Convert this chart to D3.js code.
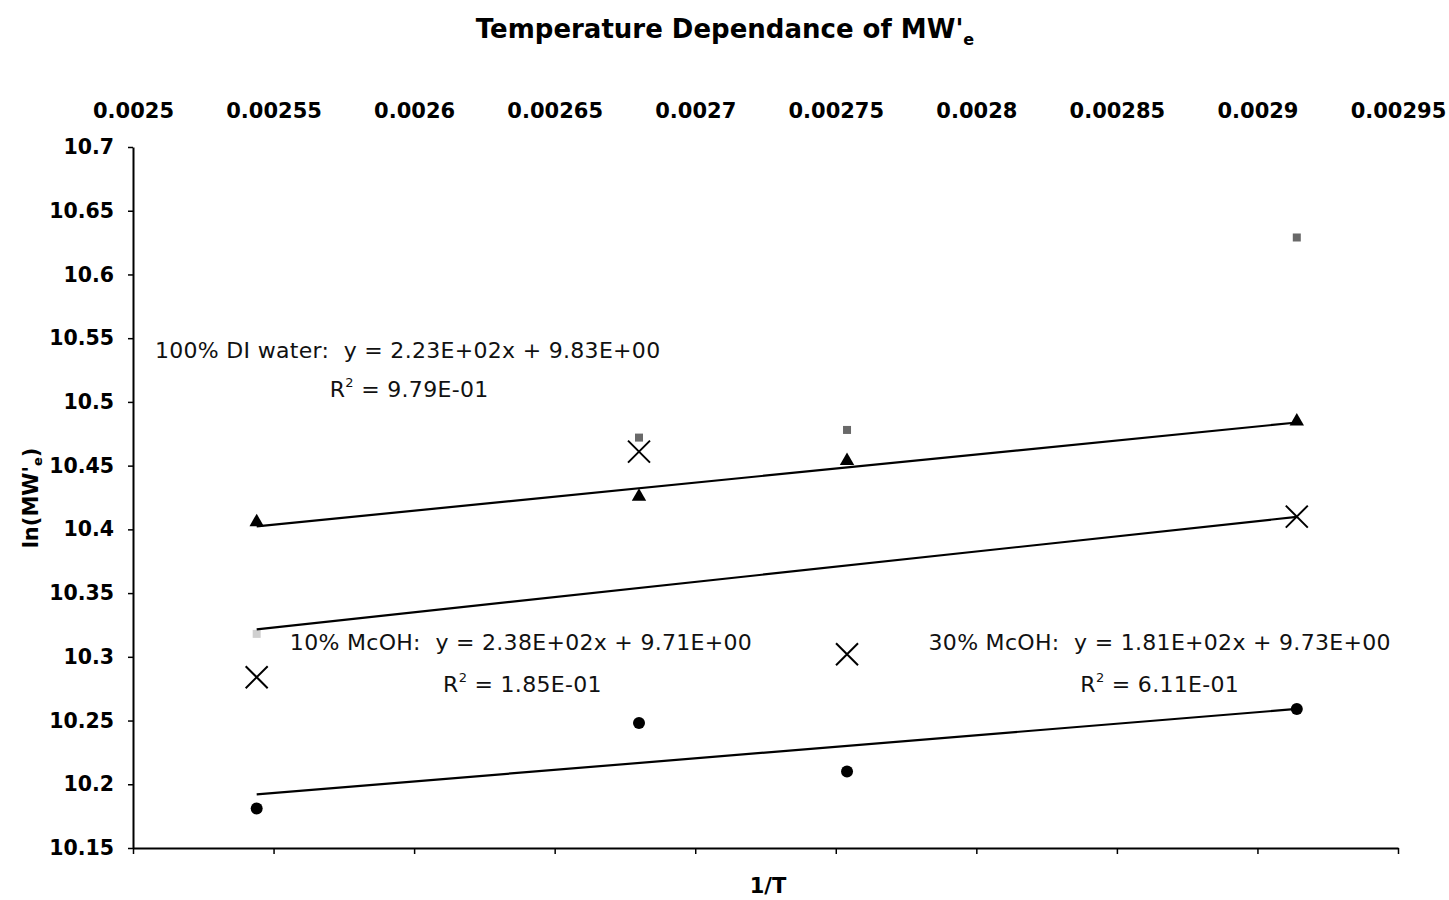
<!DOCTYPE html>
<html><head><meta charset="utf-8">
<script src="https://cdn.jsdelivr.net/npm/d3@7"></script>
<style>body{margin:0;background:#fff}svg{display:block}text{white-space:pre}</style>
</head><body>
<svg id="c" width="1449" height="900"></svg>
<script>
const invT = [0.002544, 0.00268, 0.002754, 0.002914];
const diWater = [10.405, 10.425, 10.453, 10.484];
const meoh10 = [10.284, 10.461, 10.302, 10.410];
const meoh30 = [10.181, 10.248, 10.210, 10.259];
const faintSeries = [10.318, 10.472, 10.478, 10.629];
const xTicks = [0.0025,0.00255,0.0026,0.00265,0.0027,0.00275,0.0028,0.00285,0.0029,0.00295];
const xTickLabels = ["0.0025","0.00255","0.0026","0.00265","0.0027","0.00275","0.0028","0.00285","0.0029","0.00295"];
const yTicks = [10.15,10.2,10.25,10.3,10.35,10.4,10.45,10.5,10.55,10.6,10.65,10.7];
const yTickLabels = ["10.15","10.2","10.25","10.3","10.35","10.4","10.45","10.5","10.55","10.6","10.65","10.7"];
const eqLabels = [
  {l1:"100% DI water:  y = 2.23E+02x + 9.83E+00", r2:"9.79E-01", x:0.0025078, y:10.5345, rx:0.00257, ry:10.504},
  {l1:"10% McOH:  y = 2.38E+02x + 9.71E+00", r2:"1.85E-01", x:0.0025558, y:10.3054, rx:0.0026103, ry:10.2724},
  {l1:"30% McOH:  y = 1.81E+02x + 9.73E+00", r2:"6.11E-01", x:0.002783, y:10.3054, rx:0.002837, ry:10.2724}
];

const svg = d3.select("#c");
const font = "'DejaVu Sans', Verdana, sans-serif";
const x = d3.scaleLinear().domain([0.0025,0.00295]).range([133,1398]);
const y = d3.scaleLinear().domain([10.15,10.7]).range([848,147]);

// title
const t = svg.append("text").attr("x",725).attr("y",38).attr("text-anchor","middle")
  .attr("font-family",font).attr("font-weight","bold").attr("font-size",26);
t.append("tspan").text("Temperature Dependance of MW'");
t.append("tspan").attr("font-size",16).attr("dy",7).text("e");

// top tick labels
const topAxis = svg.append("g").attr("transform","translate(0,121)")
  .call(d3.axisTop(x).tickValues(xTicks).tickSize(0).tickFormat((d,i)=>xTickLabels[i]));
topAxis.select(".domain").remove();
topAxis.selectAll("text").attr("font-family",font).attr("font-weight","bold").attr("font-size",21).attr("fill","#000").attr("dy","0");

// bottom axis
const bot = svg.append("g").attr("transform","translate(0,848)")
  .call(d3.axisBottom(x).tickValues(xTicks).tickSize(6).tickSizeOuter(0).tickFormat(""));
bot.select(".domain").attr("stroke","#000").attr("stroke-width",2);
bot.selectAll(".tick line").attr("stroke","#000").attr("stroke-width",1.5);

// left axis
const leftAxis = svg.append("g").attr("transform","translate(133,0)")
  .call(d3.axisLeft(y).tickValues(yTicks).tickSize(5).tickSizeOuter(0).tickFormat((d,i)=>yTickLabels[i]));
leftAxis.select(".domain").attr("stroke","#000").attr("stroke-width",2);
leftAxis.selectAll(".tick line").attr("stroke","#000").attr("stroke-width",1.5);
leftAxis.selectAll("text").attr("font-family",font).attr("font-weight","bold").attr("font-size",20.5).attr("fill","#000").attr("x",-19);

// axis titles
svg.append("text").attr("x",768).attr("y",893).attr("text-anchor","middle")
  .attr("font-family",font).attr("font-weight","bold").attr("font-size",21).text("1/T");
const yl = svg.append("text").attr("transform","translate(38,498) rotate(-90)").attr("text-anchor","middle")
  .attr("font-family",font).attr("font-weight","bold").attr("font-size",21);
yl.append("tspan").text("ln(MW'");
yl.append("tspan").attr("font-size",13).attr("dy",4).text("e");
yl.append("tspan").attr("dy",-4).text(")");

// regression helper
function fit(xs, ys){
  const mx=d3.mean(xs), my=d3.mean(ys);
  const sxy=d3.sum(xs,(v,i)=>(v-mx)*(ys[i]-my)), sxx=d3.sum(xs,v=>(v-mx)*(v-mx));
  const b=sxy/sxx; return {b, a:my-b*mx};
}
const line = d3.line().x(d=>x(d[0])).y(d=>y(d[1]));
[diWater, meoh10, meoh30].forEach(s=>{
  const f=fit(invT,s);
  const x0=d3.min(invT), x1=d3.max(invT);
  svg.append("path").attr("d",line([[x0,f.a+f.b*x0],[x1,f.a+f.b*x1]]))
    .attr("fill","none").attr("stroke","#000").attr("stroke-width",2.2);
});

// faint series (squares)
svg.append("g").selectAll("rect").data(faintSeries).join("rect")
  .attr("x",(d,i)=>x(invT[i])-4).attr("y",d=>y(d)-4).attr("width",8).attr("height",8)
  .attr("fill","#444").attr("opacity",(d,i)=>i===0?0.25:0.8);

// triangles
const tri = d3.symbol().type(d3.symbolTriangle).size(90);
svg.append("g").selectAll("path").data(diWater).join("path")
  .attr("d",tri).attr("transform",(d,i)=>`translate(${x(invT[i])},${y(d)-1})`).attr("fill","#000");

// X markers
svg.append("g").selectAll("path").data(meoh10).join("path")
  .attr("d","M-11,-11L11,11M-11,11L11,-11")
  .attr("transform",(d,i)=>`translate(${x(invT[i])},${y(d)})`)
  .attr("stroke","#000").attr("stroke-width",2).attr("fill","none");

// circles
svg.append("g").selectAll("circle").data(meoh30).join("circle")
  .attr("cx",(d,i)=>x(invT[i])).attr("cy",d=>y(d)).attr("r",6).attr("fill","#000");

// equation labels
eqLabels.forEach(e=>{
  svg.append("text").attr("x",x(e.x)).attr("y",y(e.y)).attr("font-family",font).attr("font-size",22)
    .attr("letter-spacing",0.3).attr("fill","#111").text(e.l1);
  const r = svg.append("text").attr("x",x(e.rx)).attr("y",y(e.ry)).attr("font-family",font).attr("font-size",22)
    .attr("letter-spacing",0.3).attr("fill","#111");
  r.append("tspan").text("R");
  r.append("tspan").attr("font-size",13).attr("dy",-10).text("2");
  r.append("tspan").attr("dy",10).text(" = "+e.r2);
});
</script>
</body></html>
